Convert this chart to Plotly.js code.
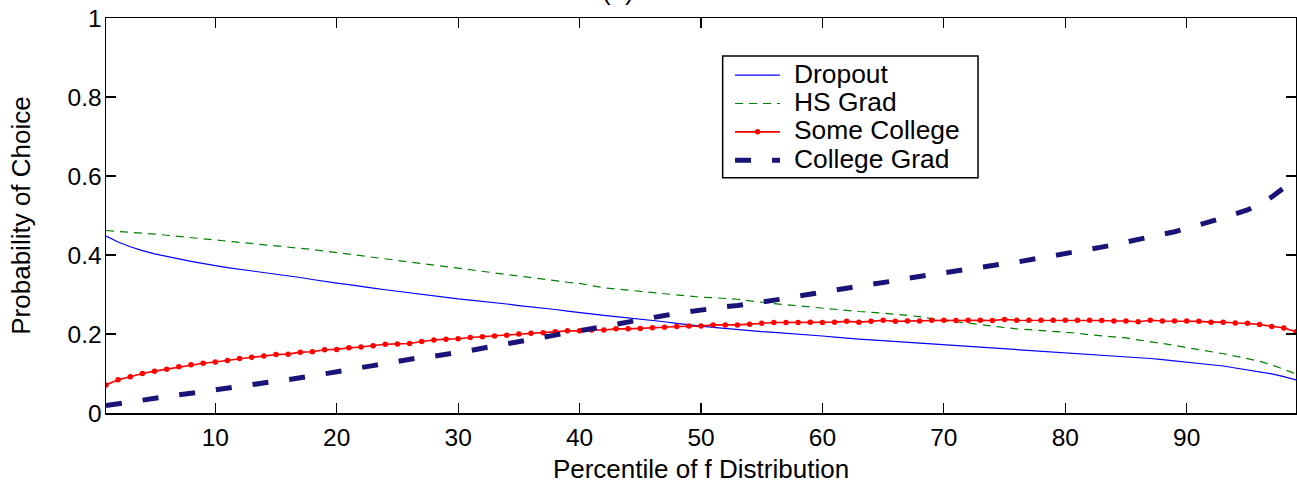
<!DOCTYPE html>
<html>
<head>
<meta charset="utf-8">
<script src="https://cdn.plot.ly/plotly-3.0.1.min.js"></script>
<style>html,body{margin:0;padding:0;background:#fff;}#chart{width:1297px;height:484px;}</style>
</head>
<body>
<div id="chart"></div>
<script>
// Percentile of f distribution (x categories)
var percentile = [1,2,3,4,5,6,7,8,9,10,11,12,13,14,15,16,17,18,19,20,
  21,22,23,24,25,26,27,28,29,30,31,32,33,34,35,36,37,38,39,40,
  41,42,43,44,45,46,47,48,49,50,51,52,53,54,55,56,57,58,59,60,
  61,62,63,64,65,66,67,68,69,70,71,72,73,74,75,76,77,78,79,80,
  81,82,83,84,85,86,87,88,89,90,91,92,93,94,95,96,97,98,99];

var dropout = [0.448,0.433,0.421,0.411,0.403,0.396,0.390,0.384,0.378,0.373,
  0.368,0.364,0.359,0.355,0.351,0.347,0.343,0.338,0.333,0.329,
  0.325,0.320,0.316,0.312,0.308,0.304,0.300,0.296,0.292,0.289,
  0.286,0.283,0.280,0.276,0.272,0.269,0.265,0.262,0.258,0.254,
  0.250,0.247,0.244,0.241,0.237,0.234,0.231,0.227,0.223,0.220,
  0.217,0.214,0.211,0.209,0.206,0.204,0.202,0.200,0.197,0.195,
  0.192,0.189,0.187,0.185,0.183,0.181,0.179,0.177,0.175,0.173,
  0.171,0.169,0.167,0.165,0.163,0.160,0.158,0.156,0.154,0.152,
  0.150,0.148,0.146,0.144,0.142,0.140,0.138,0.135,0.132,0.129,
  0.126,0.123,0.119,0.114,0.109,0.105,0.099,0.092,0.084];

var hsGrad = [0.462,0.460,0.457,0.455,0.453,0.450,0.447,0.444,0.441,0.438,
  0.435,0.432,0.429,0.427,0.424,0.421,0.418,0.414,0.410,0.406,
  0.402,0.398,0.394,0.390,0.386,0.382,0.379,0.375,0.371,0.367,
  0.362,0.358,0.354,0.350,0.346,0.342,0.339,0.335,0.331,0.328,
  0.322,0.317,0.314,0.311,0.308,0.305,0.302,0.299,0.295,0.293,
  0.292,0.290,0.288,0.284,0.280,0.277,0.274,0.271,0.268,0.265,
  0.262,0.259,0.257,0.255,0.253,0.250,0.247,0.244,0.239,0.234,
  0.231,0.228,0.224,0.220,0.216,0.213,0.211,0.209,0.207,0.205,
  0.202,0.198,0.195,0.193,0.190,0.185,0.181,0.176,0.171,0.166,
  0.161,0.156,0.150,0.144,0.138,0.131,0.122,0.111,0.099];

var someCollege = [0.071,0.084,0.092,0.100,0.106,0.111,0.117,0.122,0.126,0.129,
  0.133,0.138,0.141,0.144,0.148,0.149,0.154,0.155,0.160,0.161,
  0.165,0.167,0.170,0.174,0.175,0.176,0.181,0.185,0.187,0.188,
  0.191,0.193,0.195,0.197,0.200,0.202,0.203,0.206,0.208,0.208,
  0.210,0.210,0.213,0.213,0.214,0.216,0.217,0.219,0.220,0.220,
  0.223,0.223,0.223,0.225,0.227,0.229,0.229,0.229,0.230,0.229,
  0.230,0.232,0.230,0.232,0.235,0.232,0.233,0.233,0.235,0.235,
  0.234,0.235,0.235,0.234,0.237,0.235,0.235,0.235,0.235,0.235,
  0.235,0.235,0.234,0.233,0.233,0.231,0.235,0.233,0.233,0.233,
  0.232,0.230,0.230,0.228,0.227,0.224,0.219,0.215,0.206];

var collegeGrad = [0.019,0.024,0.028,0.033,0.038,0.042,0.046,0.050,0.054,0.058,
  0.062,0.067,0.072,0.077,0.081,0.085,0.089,0.094,0.100,0.105,
  0.110,0.115,0.120,0.126,0.132,0.137,0.141,0.144,0.148,0.153,
  0.158,0.164,0.170,0.175,0.181,0.186,0.191,0.197,0.203,0.208,
  0.214,0.220,0.225,0.230,0.236,0.242,0.247,0.252,0.257,0.261,
  0.265,0.269,0.272,0.276,0.280,0.285,0.290,0.296,0.302,0.306,
  0.311,0.316,0.320,0.325,0.329,0.335,0.341,0.346,0.350,0.355,
  0.359,0.364,0.369,0.373,0.378,0.382,0.387,0.392,0.397,0.403,
  0.409,0.415,0.420,0.426,0.432,0.439,0.445,0.452,0.459,0.467,
  0.475,0.484,0.494,0.504,0.514,0.528,0.547,0.570,0.595];

var seriesNames = ['Dropout','HS Grad','Some College','College Grad'];
var yTickVals = [0,0.2,0.4,0.6,0.8,1];
var yTickText = ['0','0.2','0.4','0.6','0.8','1'];
var xTickVals = [10,20,30,40,50,60,70,80,90];
var xTickText = ['10','20','30','40','50','60','70','80','90'];
var titleText = '(b)';
var xTitle = 'Percentile of f Distribution';
var yTitle = 'Probability of Choice';

var FONT = 'Liberation Sans, Arial, Helvetica, sans-serif';
function lg(n){ return '<span style="font-size:32px">&nbsp;</span><span style="font-size:26.4px">' + n + '</span>'; }

var traces = [
  {x: percentile, y: dropout, name: lg(seriesNames[0]), type: 'scatter', mode: 'lines',
   legendgroup: 'a', line: {color: '#0000ff', width: 1.2}},
  {x: percentile, y: hsGrad, name: lg(seriesNames[1]), type: 'scatter', mode: 'lines',
   legendgroup: 'b', line: {color: '#008000', width: 1.2, dash: '8px,6px'}},
  {x: percentile, y: someCollege, name: lg(seriesNames[2]), type: 'scatter', mode: 'lines+markers',
   legendgroup: 'c', line: {color: '#ff0000', width: 1.6}, marker: {color: '#ff0000', size: 5.5}},
  {x: percentile, y: collegeGrad, name: lg(seriesNames[3]), type: 'scatter', mode: 'lines',
   legendgroup: 'd', line: {color: '#1b1478', width: 5, dash: '16px,21px'}}
];

var layout = {
  width: 1297, height: 484,
  margin: {l: 106, r: 1, t: 18, b: 71, pad: 0},
  paper_bgcolor: '#ffffff', plot_bgcolor: '#ffffff',
  font: {family: FONT, size: 26, color: '#000'},
  showlegend: true,
  legend: {
    x: 0.5244, y: 0.9038, xanchor: 'left', yanchor: 'top',
    borderwidth: 0, bgcolor: 'rgba(0,0,0,0)',
    font: {family: FONT, size: 19.5, color: '#000'},
    tracegroupgap: 0, itemwidth: 45, traceorder: 'normal'
  },
  shapes: [{
    type: 'rect', xref: 'paper', yref: 'paper',
    x0: 0.5182, x1: 0.7328, y0: 0.5957, y1: 0.9038,
    line: {color: '#000', width: 1.5}, fillcolor: '#fff', layer: 'above'
  }],
  xaxis: {
    range: [1, 99], tickmode: 'array', tickvals: xTickVals, ticktext: xTickText,
    ticks: 'inside', ticklen: 10, tickwidth: 1.2, tickcolor: '#000',
    showline: true, linecolor: '#000', linewidth: 1.5, mirror: 'ticks',
    showgrid: false, zeroline: false,
    tickfont: {family: FONT, size: 24.5, color: '#000'},
    ticklabelstandoff: 2,
    title: {text: xTitle, font: {family: FONT, size: 26, color: '#000'}, standoff: 10}
  },
  yaxis: {
    range: [0, 1], tickmode: 'array', tickvals: yTickVals, ticktext: yTickText,
    ticks: 'inside', ticklen: 10, tickwidth: 1.2, tickcolor: '#000',
    showline: true, linecolor: '#000', linewidth: 1.5, mirror: 'ticks',
    showgrid: false, zeroline: false,
    tickfont: {family: FONT, size: 24.5, color: '#000'},
    ticklabelstandoff: -2,
    title: {text: yTitle, font: {family: FONT, size: 26, color: '#000'}, standoff: 29}
  },
  annotations: [{
    text: titleText, xref: 'paper', yref: 'paper', x: 0.43, y: 1.026,
    xanchor: 'center', yanchor: 'bottom', showarrow: false,
    font: {family: FONT, size: 26, color: '#000'}
  }]
};

Plotly.newPlot('chart', traces, layout, {displayModeBar: false, staticPlot: true});
</script>
</body>
</html>
